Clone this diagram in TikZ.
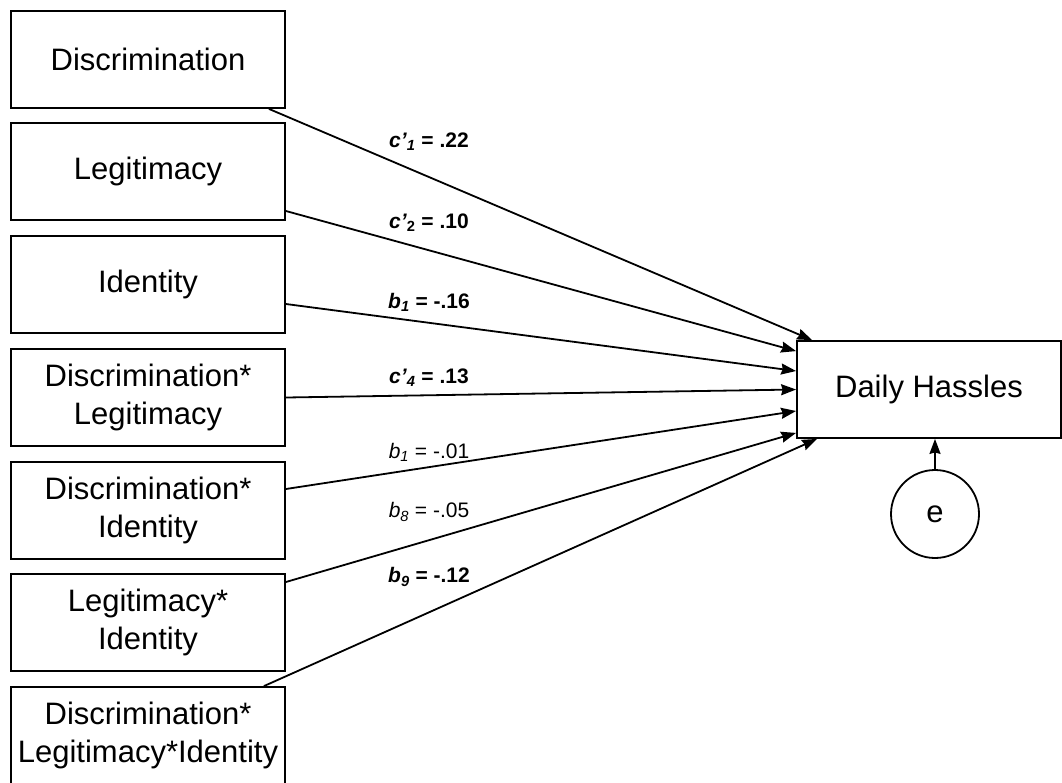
\documentclass[tikz,border=0pt]{standalone}
\usepackage{fontspec}
\setmainfont{Liberation Sans}
\usetikzlibrary{arrows.meta}
\begin{document}
\begin{tikzpicture}[x=1pt,y=-1pt,
  varbox/.style={draw,line width=1.8pt,minimum width=274pt,minimum height=97pt,align=center,inner sep=0pt,font=\fontsize{31}{37.5}\selectfont},
  outbox/.style={draw,line width=1.8pt,minimum width=264pt,minimum height=97pt,align=center,inner sep=0pt,font=\fontsize{31}{37.5}\selectfont},
  errc/.style={draw,circle,line width=1.8pt,minimum size=88pt,inner sep=0pt,font=\fontsize{31}{37.5}\selectfont},
  path/.style={line width=1.8pt,-{Stealth[length=15pt,width=11pt,inset=1.5pt]}},
  lab/.style={font=\fontsize{21}{25}\selectfont,inner sep=0pt}]
\useasboundingbox (0,0) rectangle (1062,782);
\node[varbox] (d1) at (148,59.5) {Discrimination};
\node[varbox] (d2) at (148,171.5) {Legitimacy};
\node[varbox] (d3) at (148,284.5) {Identity};
\node[varbox] (d4) at (148,397.5) {Discrimination*\\Legitimacy};
\node[varbox] (d5) at (148,510.5) {Discrimination*\\Identity};
\node[varbox] (d6) at (148,622.5) {Legitimacy*\\Identity};
\node[varbox] (d7) at (148,735.5) {Discrimination*\\Legitimacy*Identity};
\node[outbox] (h) at (929,389.5) {Daily Hassles};
\node[errc] (e) at (935,514) {e};
\draw[path] ([xshift=-17pt]d1.south east) -- ([xshift=16pt]h.north west);
\draw[path] ([yshift=-39.5pt]d2.east) -- ([yshift=-11pt]h.north west);
\draw[path] ([yshift=-19.5pt]d3.east) -- ([yshift=18.5pt]h.west);
\draw[path] (d4.east) -- (h.west);
\draw[path] ([yshift=21.5pt]d5.east) -- ([yshift=-21.5pt]h.west);
\draw[path] ([yshift=40.5pt]d6.east) -- ([yshift=6pt]h.south west);
\draw[path] ([xshift=-22pt]d7.north east) -- ([xshift=21pt]h.south west);
\draw[path] (e.north) -- (e.north |- h.south);
\node[lab] (l1) at (429,142) {\textbf{\textit{c’}\textsubscript{\textit{1}} = .22}};
\node[lab] (l2) at (429,223) {\textbf{\textit{c’}\textsubscript{2} = .10}};
\node[lab] (l3) at (429,302) {\textbf{\textit{b}\textsubscript{\textit{1}} = -.16}};
\node[lab] (l4) at (429,378) {\textbf{\textit{c’}\textsubscript{\textit{4}} = .13}};
\node[lab] (l5) at (429,452) {\textit{b}\textsubscript{\textit{1}} = -.01};
\node[lab] (l6) at (429,512) {\textit{b}\textsubscript{\textit{8}} = -.05};
\node[lab] (l7) at (429,577) {\textbf{\textit{b}\textsubscript{\textit{9}} = -.12}};
\end{tikzpicture}
\end{document}
